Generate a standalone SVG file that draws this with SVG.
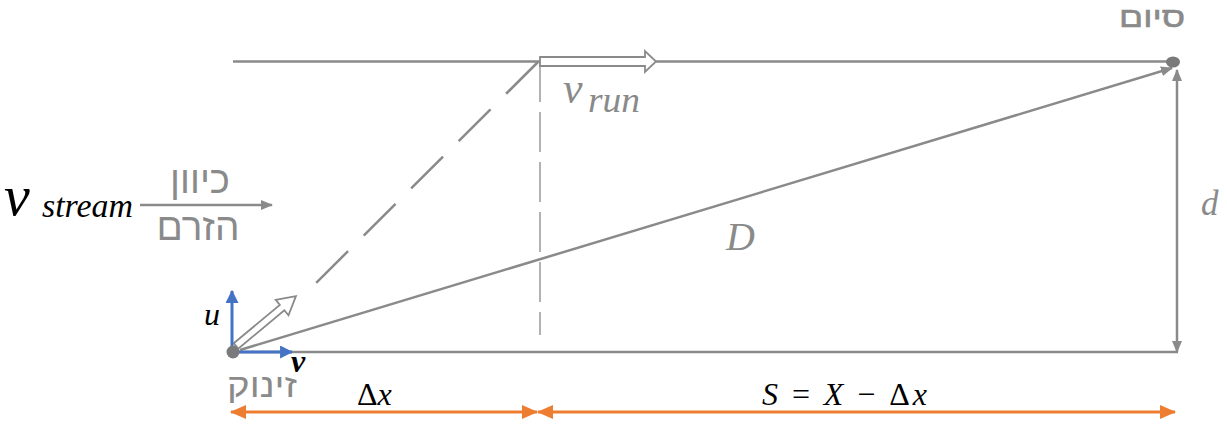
<svg xmlns="http://www.w3.org/2000/svg" width="1227" height="425" viewBox="0 0 1227 425">
<defs>
<style>
.g{stroke:#8a8a8a;stroke-width:2.5;fill:none}
.thin{stroke:#8a8a8a;stroke-width:1.3;fill:none}
.hollow{fill:#fff;stroke:#8a8a8a;stroke-width:1.8}
.blue{stroke:#4472c4;stroke-width:3;fill:none}
.or{stroke:#ed7d31;stroke-width:3;fill:none}
.heb{font-family:"Liberation Sans","DejaVu Sans",sans-serif;fill:#8a8a8a}
.mg{font-family:"Liberation Serif","DejaVu Serif",serif;font-style:italic;fill:#8a8a8a}
.mb{font-family:"Liberation Serif","DejaVu Serif",serif;font-style:italic;fill:#000}
.n{font-style:normal}
</style>
<marker id="ag" viewBox="0 0 12 10" refX="11" refY="5" markerWidth="12" markerHeight="10" markerUnits="userSpaceOnUse" orient="auto-start-reverse"><path d="M0,0 L12,5 L0,10 Z" fill="#8a8a8a"/></marker>
<marker id="ab" viewBox="0 0 12 12" refX="11" refY="6" markerWidth="13" markerHeight="13" markerUnits="userSpaceOnUse" orient="auto"><path d="M0,0 L12,6 L0,12 Z" fill="#4472c4"/></marker>
<marker id="ao" viewBox="0 0 16 14" refX="15" refY="7" markerWidth="16" markerHeight="14" markerUnits="userSpaceOnUse" orient="auto-start-reverse"><path d="M0,0 L16,7 L0,14 Z" fill="#ed7d31"/></marker>
</defs>
<rect width="1227" height="425" fill="#fff"/>
<g id="connectors">
<line class="g" x1="233" y1="61.5" x2="1170" y2="61.5"/>
<line class="g" x1="236" y1="352" x2="1178" y2="352"/>
<line class="g" x1="240" y1="350" x2="1172" y2="68" marker-end="url(#ag)"/>
<line class="g" x1="1177" y1="70" x2="1177" y2="352" marker-start="url(#ag)" marker-end="url(#ag)"/>
<line class="g" x1="538" y1="62" x2="308" y2="291" stroke-dasharray="45 22"/>
<line class="thin" x1="540" y1="62" x2="540" y2="335" stroke-dasharray="40 10"/>
<line class="g" x1="140" y1="205" x2="272" y2="205" stroke-width="2" marker-end="url(#ag)"/>
<path class="hollow" d="M540,57 L645,57 L645,51 L656,61.5 L645,72 L645,66 L540,66 Z"/>
<path class="hollow" transform="translate(236,346) rotate(-39.8)" d="M0,-3.5 L60,-3.5 L60,-10 L78,0 L60,10 L60,3.5 L0,3.5 Z"/>
<line class="blue" x1="232" y1="352" x2="232" y2="291" marker-end="url(#ab)"/>
<line class="blue" x1="232" y1="352" x2="292" y2="352" marker-end="url(#ab)"/>
<line class="or" x1="231" y1="412" x2="537" y2="412" marker-start="url(#ao)" marker-end="url(#ao)"/>
<line class="or" x1="538" y1="412" x2="1175" y2="412" marker-start="url(#ao)" marker-end="url(#ao)"/>
</g>
<g id="start">
<circle cx="233" cy="352" r="6.5" fill="#7a7a7a"/>
<text class="heb" x="262" y="397" font-size="33" text-anchor="middle" direction="rtl" textLength="70" lengthAdjust="spacingAndGlyphs">זינוק</text>
</g>
<g id="finish">
<ellipse cx="1173" cy="62" rx="7" ry="5.5" fill="#7a7a7a"/>
<text class="heb" x="1152" y="27" font-size="29" text-anchor="middle" direction="rtl" textLength="66" lengthAdjust="spacingAndGlyphs" stroke="#8a8a8a" stroke-width="0.6">סיום</text>
</g>
<g id="stream">
<text class="mb" x="4" y="215" font-size="58">v</text>
<text class="mb" x="42" y="217" font-size="34" textLength="91" lengthAdjust="spacingAndGlyphs">stream</text>
<text class="heb" x="200" y="193" font-size="38" text-anchor="middle" direction="rtl" textLength="60" lengthAdjust="spacingAndGlyphs">כיוון</text>
<text class="heb" x="198" y="240" font-size="38" text-anchor="middle" direction="rtl" textLength="83" lengthAdjust="spacingAndGlyphs">הזרם</text>
</g>
<g id="vrun">
<text class="mg" x="563" y="103" font-size="44">v</text>
<text class="mg" x="588" y="112" font-size="35" textLength="52" lengthAdjust="spacingAndGlyphs">run</text>
</g>
<g id="labels">
<text class="mg" x="726" y="250" font-size="40">D</text>
<text class="mg" x="1201" y="215" font-size="35">d</text>
<text class="mb" x="204" y="325" font-size="32">u</text>
<text class="mb" x="291" y="372" font-size="32" font-weight="bold">v</text>
<text class="mb" x="357" y="405" font-size="32"><tspan class="n">Δ</tspan>x</text>
<text class="mb" x="762" y="405" font-size="32" textLength="165" lengthAdjust="spacing">S <tspan class="n">=</tspan> X <tspan class="n">− Δ</tspan>x</text>
</g>
</svg>
